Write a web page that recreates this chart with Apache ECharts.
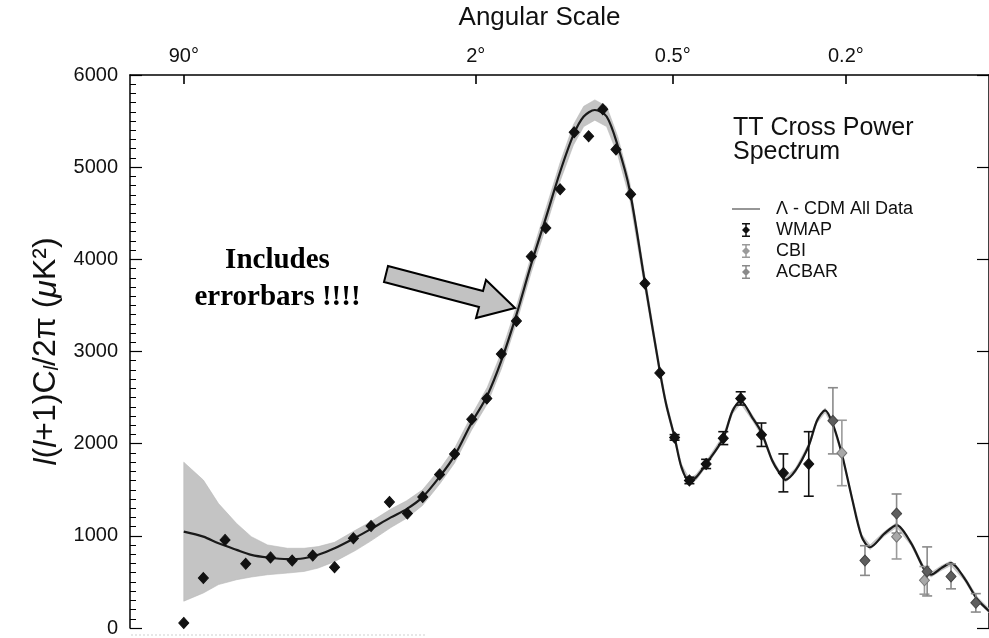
<!DOCTYPE html>
<html>
<head>
<meta charset="utf-8">
<script src="https://cdn.jsdelivr.net/npm/echarts@6/dist/echarts.min.js"></script>
<style>
  html, body { margin: 0; padding: 0; background: #fff; }
  #chart { width: 989px; height: 638px; }
</style>
</head>
<body>
<div id="chart"></div>
<script>
// ---- Lambda-CDM model spectrum: multipole l, D_l = l(l+1)C_l/2pi in uK^2 ----
const modelL = [2, 3, 4, 5.5, 7, 9, 12, 15, 18, 22,
  28, 33, 41, 48, 56, 66, 75, 87, 99, 111,
  125, 140, 156, 173, 190, 204, 220, 238, 256, 276,
  304, 333, 346, 364, 379, 397, 413, 437, 481, 506,
  529, 563, 591, 625, 647, 669, 704, 752, 783, 815,
  848, 883, 925, 969, 1007, 1077, 1136, 1212, 1284, 1321,
  1380, 1438, 1520, 1605, 1700];
const modelD = [1045, 991, 919, 848, 794, 765, 747, 757, 794, 865,
  980, 1070, 1200, 1290, 1420, 1650, 1870, 2230, 2520, 2900,
  3400, 3950, 4450, 4950, 5350, 5550, 5620, 5550, 5230, 4760,
  3750, 2790, 2430, 2068, 1745, 1590, 1637, 1780, 2060, 2355,
  2463, 2283, 2122, 1817, 1691, 1608, 1709, 1978, 2248, 2362,
  2194, 1888, 1422, 991, 876, 1026, 1117, 919, 632, 578,
  650, 703, 542, 309, 160];
// uncertainty band around the model (lower / upper edge)
const bandLow = [291, 380, 471, 524, 553, 578, 596, 614, 650, 720,
  840, 940, 1090, 1190, 1330, 1570, 1790, 2150, 2430, 2810,
  3310, 3860, 4350, 4850, 5240, 5440, 5510, 5440, 5130, 4670,
  3680, 2740, 2390, 2030, 1710, 1560, 1607, 1750, 2030, 2325,
  2433, 2253, 2092, 1792, 1666, 1583, 1684, 1953, 2223, 2337,
  2169, 1863, 1397, 966, 851, 1001, 1092, 894, 607, 553,
  625, 678, 517, 284, 135];
const bandHigh = [1799, 1605, 1350, 1134, 991, 901, 865, 865, 883, 930,
  1060, 1150, 1290, 1380, 1500, 1730, 1950, 2310, 2610, 2990,
  3490, 4040, 4550, 5050, 5460, 5660, 5730, 5660, 5330, 4850,
  3820, 2840, 2470, 2105, 1780, 1620, 1667, 1810, 2090, 2385,
  2493, 2313, 2152, 1842, 1716, 1633, 1734, 2003, 2273, 2387,
  2219, 1913, 1447, 1016, 901, 1051, 1142, 944, 657, 603,
  675, 728, 567, 334, 185];

// ---- WMAP binned band powers ----
const wmapL = [2, 3, 4.5, 6.4, 9.4, 12.8, 16.8, 22, 27.4, 33.3,
  40.4, 48.4, 56.1, 65.6, 75, 87, 98.7, 111, 125, 140,
  156, 173, 191, 211, 232, 253, 278, 304, 333, 364,
  397, 437, 481, 529, 591, 662, 752];
const wmapD = [55, 542, 955, 697, 765, 732, 786, 660, 973, 1106,
  1368, 1242, 1422, 1666, 1888, 2265, 2491, 2973, 3331, 4031,
  4340, 4760, 5378, 5335, 5629, 5191, 4707, 3737, 2768, 2068,
  1601, 1780, 2060, 2491, 2097, 1683, 1780];
const wmapErr = [0, 0, 0, 0, 0, 0, 0, 0, 0, 0,
  0, 0, 0, 0, 0, 0, 0, 0, 0, 0,
  0, 0, 0, 0, 0, 0, 0, 0, 0, 30,
  35, 50, 70, 72, 127, 206, 350];

// ---- CBI band powers ----
const cbiL = [883, 1136, 1284];
const cbiD = [1899, 991, 517];
const cbiErr = [355, 242, 150];

// ---- ACBAR band powers ----
const acbarL = [846, 984, 1136, 1299, 1438, 1594];
const acbarD = [2248, 732, 1242, 614, 560, 273];
const acbarErr = [359, 161, 212, 266, 135, 100];

// ---- angular scale ticks (theta = 180deg / l) ----
const angleTickL = [2, 90, 360, 900];
const angleTickLabels = ['90°', '2°', '0.5°', '0.2°'];

// The horizontal axis is linear in l^(1/4)
const toX = l => Math.pow(l, 0.25);
const angleTickX = angleTickL.map(toX);

const FONT = '"Liberation Sans", Arial, Helvetica, sans-serif';
const SERIF = '"Liberation Serif", "Times New Roman", serif';

function errorBars(name, L, D, E, color, z) {
  return {
    type: 'custom',
    name: name,
    z: z,
    silent: true,
    itemStyle: { color: color },
    data: L.map((l, i) => [toX(l), D[i], E[i]]),
    encode: { x: 0, y: 1 },
    renderItem: function (params, api) {
      const x = api.value(0), y = api.value(1), e = api.value(2);
      if (!e) return null;
      const top = api.coord([x, y + e]);
      const bot = api.coord([x, y - e]);
      const hw = 5;
      const st = { stroke: color, lineWidth: 1.6 };
      return {
        type: 'group',
        children: [
          { type: 'line', shape: { x1: top[0], y1: top[1], x2: bot[0], y2: bot[1] }, style: st },
          { type: 'line', shape: { x1: top[0] - hw, y1: top[1], x2: top[0] + hw, y2: top[1] }, style: st },
          { type: 'line', shape: { x1: bot[0] - hw, y1: bot[1], x2: bot[0] + hw, y2: bot[1] }, style: st }
        ]
      };
    }
  };
}

function points(name, L, D, color, border, z) {
  return {
    type: 'scatter',
    name: name,
    z: z,
    symbol: 'diamond',
    symbolSize: [10, 11],
    itemStyle: { color: color, borderColor: border, borderWidth: 1, opacity: 1 },
    data: L.map((l, i) => [toX(l), D[i]])
  };
}

const errIcon = 'path://M0,0H8V1.5H0Z M3.25,0H4.75V14H3.25Z M0,12.5H8V14H0Z M4,3L8,7L4,11L0,7Z';

const chart = echarts.init(document.getElementById('chart'), null, { renderer: 'canvas' });

chart.setOption({
  animation: false,
  backgroundColor: '#ffffff',
  textStyle: { fontFamily: FONT, color: '#111' },
  grid: { left: 130, top: 75, right: -6, bottom: 6, containLabel: false },
  title: {
    text: 'TT Cross Power\nSpectrum',
    left: 733,
    top: 116,
    padding: 0,
    textStyle: { fontFamily: FONT, fontSize: 25, fontWeight: 'normal', color: '#111', lineHeight: 24 }
  },
  legend: {
    orient: 'vertical',
    left: 732,
    top: 200,
    padding: 0,
    itemWidth: 28,
    itemHeight: 14,
    itemGap: 3,
    selectedMode: false,
    textStyle: { fontFamily: FONT, fontSize: 18, color: '#111', padding: [0, 0, 0, 11], lineHeight: 16 },
    data: [
      { name: 'Λ - CDM All Data', icon: 'path://M0,0H40V1.3H0Z' },
      { name: 'WMAP', icon: errIcon },
      { name: 'CBI', icon: errIcon },
      { name: 'ACBAR', icon: errIcon }
    ]
  },
  xAxis: {
    type: 'value',
    position: 'top',
    min: 0.841,
    max: 6.404,
    name: 'Angular Scale',
    nameLocation: 'middle',
    nameGap: 44,
    nameTextStyle: { fontFamily: FONT, fontSize: 26, color: '#111', padding: [0, 40, 0, 0] },
    axisLine: { show: true, onZero: false, lineStyle: { color: '#000', width: 1.5 } },
    axisTick: { show: true, inside: true, length: 9, lineStyle: { color: '#000', width: 1.6 }, customValues: angleTickX },
    axisLabel: {
      show: true,
      margin: 9,
      fontFamily: FONT,
      fontSize: 20,
      color: '#111',
      customValues: angleTickX,
      formatter: function (v) {
        let best = 0;
        angleTickX.forEach((t, i) => { if (Math.abs(t - v) < Math.abs(angleTickX[best] - v)) best = i; });
        return angleTickLabels[best];
      }
    },
    splitLine: { show: false }
  },
  yAxis: [
    {
      type: 'value',
      min: 0,
      max: 6000,
      interval: 1000,
      name: '{i|l}({i|l}+1)C{s|l}/2π ({i|μ}K²)',
      nameLocation: 'middle',
      nameGap: 48,
      nameRotate: 90,
      nameTextStyle: {
        fontFamily: FONT, fontSize: 32, color: '#111',
        rich: {
          i: { fontFamily: FONT, fontSize: 32, fontStyle: 'italic', color: '#111' },
          s: { fontFamily: FONT, fontSize: 20, fontStyle: 'italic', color: '#111', verticalAlign: 'bottom', padding: [10, 0, 0, 0] }
        }
      },
      axisLine: { show: true, onZero: false, lineStyle: { color: '#000', width: 1.5 } },
      axisTick: { show: true, inside: true, length: 12, lineStyle: { color: '#000', width: 1.2 } },
      minorTick: { show: true, splitNumber: 10, length: 6, lineStyle: { color: '#000', width: 1 } },
      axisLabel: { margin: 12, fontFamily: FONT, fontSize: 20, color: '#111', formatter: v => String(v) },
      splitLine: { show: false }
    },
    {
      type: 'value',
      position: 'right',
      min: 0,
      max: 6000,
      interval: 1000,
      axisLine: { show: true, onZero: false, lineStyle: { color: '#000', width: 1.5 } },
      axisTick: { show: true, inside: true, length: 12, lineStyle: { color: '#000', width: 1.2 } },
      axisLabel: { show: false },
      splitLine: { show: false }
    }
  ],
  series: [
    {
      type: 'custom',
      name: 'band',
      silent: true,
      z: 1,
      data: modelL.map((l, i) => [toX(l), bandLow[i], bandHigh[i]]),
      encode: { x: 0, y: [1, 2] },
      renderItem: function (params, api) {
        if (params.dataIndex !== 0) return null;
        const upper = modelL.map((l, i) => api.coord([toX(l), bandHigh[i]]));
        const lower = modelL.map((l, i) => api.coord([toX(l), bandLow[i]])).reverse();
        return {
          type: 'polygon',
          shape: { points: upper.concat(lower) },
          style: { fill: '#c4c4c4', stroke: '#b8b8b8', lineWidth: 0.6 }
        };
      }
    },
    {
      type: 'line',
      name: 'Λ - CDM All Data',
      z: 3,
      smooth: 0.3,
      showSymbol: false,
      symbol: 'none',
      itemStyle: { color: '#1a1a1a' },
      lineStyle: { color: '#1a1a1a', width: 2.2 },
      data: modelL.map((l, i) => [toX(l), modelD[i]])
    },
    errorBars('WMAP', wmapL, wmapD, wmapErr, '#111111', 4),
    points('WMAP', wmapL, wmapD, '#111111', '#111111', 5),
    errorBars('CBI', cbiL, cbiD, cbiErr, '#9a9a9a', 4),
    points('CBI', cbiL, cbiD, '#a8a8a8', '#777777', 5),
    errorBars('ACBAR', acbarL, acbarD, acbarErr, '#8a8a8a', 4),
    points('ACBAR', acbarL, acbarD, '#5e5e5e', '#444444', 6)
  ],
  graphic: [
    {
      type: 'polygon',
      z: 10,
      shape: {
        points: [[388, 266], [483, 291], [486, 280], [515, 308], [476, 318], [479, 307], [384, 282]]
      },
      style: { fill: '#c2c2c2', stroke: '#000', lineWidth: 2 }
    },
    {
      type: 'text',
      z: 10,
      left: 190,
      top: 242,
      style: {
        text: 'Includes\nerrorbars !!!!',
        font: 'bold 29px ' + SERIF,
        fill: '#000',
        textAlign: 'center',
        lineHeight: 37,
        width: 175
      }
    },
    {
      type: 'line',
      z: 0,
      shape: { x1: 131, y1: 635, x2: 425, y2: 635 },
      style: { stroke: '#d0d0d0', lineWidth: 1, lineDash: [2, 2] }
    }
  ]
});
</script>
</body>
</html>
